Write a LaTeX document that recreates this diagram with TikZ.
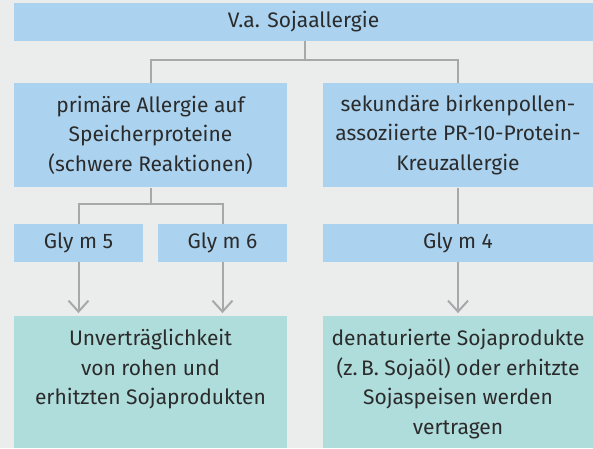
\documentclass[tikz,border=0pt]{standalone}
\usepackage{fontspec}
\setmainfont{Fira Sans}
\usetikzlibrary{arrows.meta}
\definecolor{bgc}{HTML}{EBECEC}
\definecolor{bluec}{HTML}{ABD3F0}
\definecolor{greenc}{HTML}{AFDDDC}
\definecolor{linec}{HTML}{A7A8AA}
\definecolor{txtc}{HTML}{2B2B2B}
\newcommand{\boxfont}{\fontsize{21}{29.5}\selectfont}
\tikzset{
  boxbase/.style={rectangle, inner sep=0pt, text=txtc, font=\boxfont, align=center},
  bluebox/.style={boxbase, fill=bluec},
  greenbox/.style={boxbase, fill=greenc},
  boxtext/.style={inner sep=0pt, text=txtc, font=\boxfont, align=center},
  conn/.style={draw=linec, line width=2pt},
  arr/.style={conn, -{Straight Barb[length=11pt,width=20pt]}, shorten >=2.7pt},
}
\begin{document}
\begin{tikzpicture}[x=1pt,y=-1pt]
\useasboundingbox (0,0) rectangle (593,448);
\fill[bgc] (0,0) rectangle (593,448);
\node[bluebox, minimum width=579pt, minimum height=37.4pt] (top) at (303.5,22) {V.a. Sojaallergie};
\node[bluebox, minimum width=273pt, minimum height=104.6pt] (L2) at (150.5,135) {primäre Allergie auf\\Speicherproteine\\(schwere Reaktionen)};
\node[bluebox, minimum width=270pt, minimum height=104.6pt] (R2) at (458,135) {sekundäre birkenpollen-\\assoziierte PR-10-Protein-\\Kreuzallergie};
\node[bluebox, minimum width=129pt, minimum height=38pt] (G5) at (78.5,242.7) {Gly m 5};
\node[bluebox, minimum width=129pt, minimum height=38pt] (G6) at (222.5,242.7) {Gly m 6};
\node[bluebox, minimum width=270pt, minimum height=38pt] (G4) at (458,242.7) {Gly m 4};
\node[greenbox, minimum width=273pt, minimum height=132pt] (B1) at (150.5,382) {};
\node[greenbox, minimum width=270pt, minimum height=132pt] (B2) at (458,382) {};
\node[boxtext, anchor=north] (T1) at (150.5,329) {Unverträglichkeit\\von rohen und\\erhitzten Sojaprodukten};
\node[boxtext, anchor=north] (T2) at (458,329) {denaturierte Sojaprodukte\\(z.\,B. Sojaöl) oder erhitzte\\Sojaspeisen werden\\vertragen};
\coordinate (j1) at (304.5,60.3);
\coordinate (j2) at (150.5,204);
\draw[conn] (j1 |- top.south) -- (j1);
\draw[conn] (L2.north) |- (j1) -| (R2.north);
\draw[conn] (L2.south) -- (j2);
\draw[conn] (G5.north) |- (j2) -| (G6.north);
\draw[conn] (R2.south) -- (G4.north);
\draw[arr] (G5.south) -- (G5.south |- B1.north);
\draw[arr] (G6.south) -- (G6.south |- B1.north);
\draw[arr] (G4.south) -- (G4.south |- B2.north);
\end{tikzpicture}
\end{document}
